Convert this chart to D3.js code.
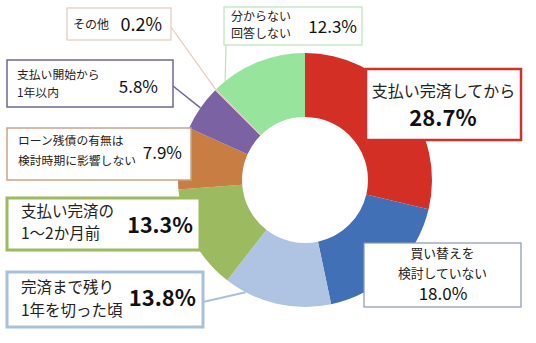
<!DOCTYPE html>
<html><head><meta charset="utf-8">
<script src="https://cdn.jsdelivr.net/npm/d3@7"></script>
<style>
html,body{margin:0;padding:0;background:#fff;}
svg{display:block;font-family:"Noto Sans CJK JP","Noto Sans",sans-serif;}
</style></head>
<body><svg id="chart" width="536" height="343"></svg>
<script>
// Answer categories, clockwise from 12 o'clock
const categories = [
  "支払い完済してから",
  "買い替えを検討していない",
  "完済まで残り1年を切った頃",
  "支払い完済の1〜2か月前",
  "ローン残債の有無は検討時期に影響しない",
  "支払い開始から1年以内",
  "その他",
  "分からない 回答しない"
];
const values = [28.7, 18.0, 13.8, 13.3, 7.9, 5.8, 0.2, 12.3];
const valueLabels = ["28.7%", "18.0%", "13.8%", "13.3%", "7.9%", "5.8%", "0.2%", "12.3%"];
// Text lines shown in each callout
const labelLines = [
  ["支払い完済してから"],
  ["買い替えを", "検討していない"],
  ["完済まで残り", "1年を切った頃"],
  ["支払い完済の", "1〜2か月前"],
  ["ローン残債の有無は", "検討時期に影響しない"],
  ["支払い開始から", "1年以内"],
  ["その他"],
  ["分からない", "回答しない"]
];
const colors = ["#d42f25", "#4170b6", "#aec4e2", "#9cba5f", "#c87d43", "#7a62a3", "#e6c3ad", "#97e49d"];

const svg = d3.select("#chart");
const cx = 305, cy = 180, rOuter = 127, rInner = 63;

const pie = d3.pie().sort(null).value(d => d)(values);
const arc = d3.arc().innerRadius(rInner).outerRadius(rOuter);

const g = svg.append("g").attr("transform", `translate(${cx},${cy})`);
g.selectAll("path").data(pie).join("path")
  .attr("d", arc)
  .attr("fill", (d, i) => colors[i]);

// point on the outer rim at a fraction through a slice
function rim(i, f) {
  const a = pie[i].startAngle + (pie[i].endAngle - pie[i].startAngle) * f;
  return [cx + rOuter * Math.sin(a), cy - rOuter * Math.cos(a)];
}

// Callout layout: box, border, text placement, leader line
const callouts = [
  {i: 0, box: [366, 69, 155, 71], stroke: "#d0312a", sw: 2.5, align: "center",
   lines: [{y: 97, size: 16}], val: {x: 443, y: 126, size: 22, bold: true, anchor: "middle"}},
  {i: 1, box: [364, 243, 157, 64], stroke: "#8797b5", sw: 1.2, align: "center",
   lines: [{y: 258, size: 12.8}, {y: 278, size: 12.8}], val: {x: 443, y: 300, size: 17, anchor: "middle"}},
  {i: 2, box: [7, 272, 196, 55], stroke: "#a9c0dd", sw: 3, align: "left", tx: 21,
   lines: [{y: 293, size: 15.5}, {y: 316, size: 15.5}], val: {x: 196, y: 306, size: 22, bold: true, anchor: "end"},
   leader: {from: [203, 302], f: 0.8}},
  {i: 3, box: [7, 198, 193, 52], stroke: "#9cba5f", sw: 3, align: "left", tx: 21,
   lines: [{y: 217, size: 15.5}, {y: 239, size: 15.5}], val: {x: 193, y: 233, size: 21.5, bold: true, anchor: "end"}},
  {i: 4, box: [7, 128, 184, 52], stroke: "#c9a489", sw: 1.5, align: "left", tx: 18,
   lines: [{y: 145, size: 11.8}, {y: 165, size: 11.8}], val: {x: 182, y: 159, size: 17, anchor: "end"}},
  {i: 5, box: [7, 60, 166, 47], stroke: "#6c6a92", sw: 1.5, align: "left", tx: 17,
   lines: [{y: 79, size: 11.8}, {y: 97, size: 11.8}], val: {x: 158, y: 93, size: 17, anchor: "end"},
   leader: {from: [173, 86], f: 0.5}},
  {i: 6, box: [67, 8, 104, 32], stroke: "#e3cbbc", sw: 1.2, align: "left", tx: 73,
   lines: [{y: 29, size: 12}], val: {x: 162, y: 31, size: 18, anchor: "end"},
   leader: {from: [171, 27], f: 0.5}},
  {i: 7, box: [224, 7, 138, 38], stroke: "#b9e3bb", sw: 1.2, align: "left", tx: 231,
   lines: [{y: 21, size: 12}, {y: 38, size: 12}], val: {x: 357, y: 33, size: 17, anchor: "end"},
   leader: {from: [226, 45], f: 0.12}}
];

// leader lines first so boxes sit on top of them
callouts.filter(c => c.leader).forEach(c => {
  const p = rim(c.i, c.leader.f);
  svg.append("line")
    .attr("x1", c.leader.from[0]).attr("y1", c.leader.from[1])
    .attr("x2", p[0]).attr("y2", p[1])
    .attr("stroke", c.stroke).attr("stroke-width", Math.min(c.sw, 2));
});

callouts.forEach(c => {
  const [x, y, w, h] = c.box;
  svg.append("rect")
    .attr("x", x).attr("y", y).attr("width", w).attr("height", h)
    .attr("fill", "#fff").attr("stroke", c.stroke).attr("stroke-width", c.sw);
  labelLines[c.i].forEach((t, k) => {
    const L = c.lines[k];
    svg.append("text")
      .attr("x", c.align === "center" ? x + w / 2 : c.tx)
      .attr("y", L.y)
      .attr("text-anchor", c.align === "center" ? "middle" : "start")
      .attr("font-size", L.size)
      .attr("fill", "#222")
      .text(t);
  });
  svg.append("text")
    .attr("x", c.val.x).attr("y", c.val.y)
    .attr("text-anchor", c.val.anchor)
    .attr("font-size", c.val.size)
    .attr("font-weight", c.val.bold ? 700 : 400)
    .attr("fill", "#111")
    .text(valueLabels[c.i]);
});
</script>
</body></html>
